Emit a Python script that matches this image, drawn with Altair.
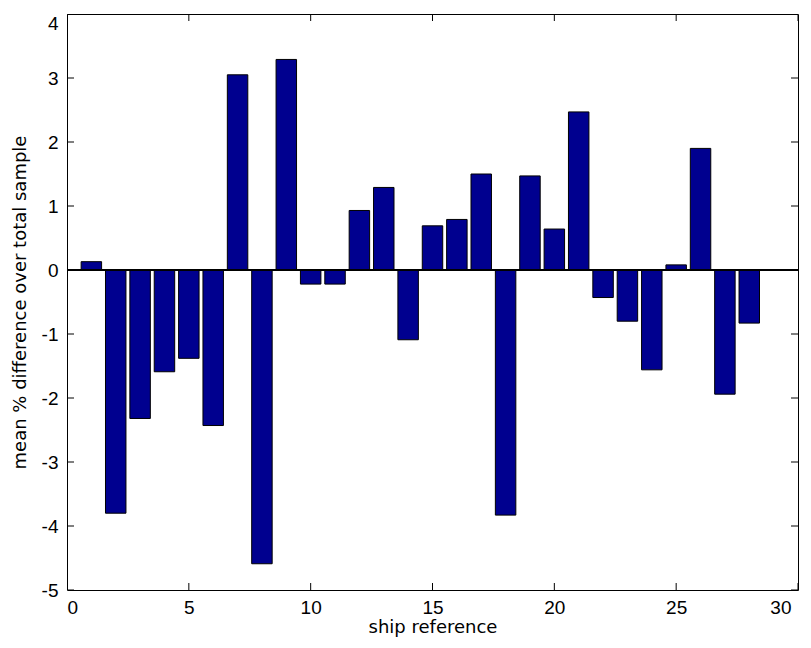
import altair as alt
import pandas as pd

ships = list(range(1, 29))
values = [0.13, -3.80, -2.32, -1.59, -1.38, -2.43, 3.05, -4.59, 3.29, -0.22,
          -0.22, 0.93, 1.29, -1.09, 0.69, 0.79, 1.50, -3.83, 1.47, 0.64,
          2.47, -0.43, -0.80, -1.56, 0.08, 1.90, -1.94, -0.83]
x_ticks = [0, 5, 10, 15, 20, 25, 30]
y_ticks = [-5, -4, -3, -2, -1, 0, 1, 2, 3, 4]

df = pd.DataFrame({"ship": ships, "value": values})
xt = pd.DataFrame({"t": x_ticks})
yt = pd.DataFrame({"t": y_ticks})

xs = alt.Scale(domain=[0, 30], nice=False, zero=False)
ys = alt.Scale(domain=[-5, 4], nice=False, zero=False)

tick_font = "Liberation Sans"
title_font = "DejaVu Sans"

bars = alt.Chart(df).transform_calculate(
    lo="datum.ship - 0.42", hi="datum.ship + 0.42"
).mark_bar(color="#00008F", stroke="black", strokeWidth=1).encode(
    x=alt.X("lo:Q", scale=xs,
            axis=alt.Axis(orient="bottom", values=x_ticks, title="ship reference",
                          domain=False, ticks=False, tickSize=0,
                          labelPadding=8, labelFont=tick_font, labelFontSize=19,
                          labelColor="black", grid=False,
                          labelExpr="datum.value + ''",
                          labelOffset={"condition": {"test": "datum.value == 30", "value": -7}, "value": 0},
                          titleFont=title_font, titleFontSize=18, titleFontWeight="normal",
                          titleColor="black", titlePadding=1)),
    x2="hi:Q",
    y=alt.Y("value:Q", scale=ys,
            axis=alt.Axis(orient="left", values=y_ticks,
                          title="mean % difference over total sample",
                          domain=False, ticks=False, tickSize=0,
                          labelPadding=9, labelFont=tick_font, labelFontSize=19,
                          labelColor="black", grid=False,
                          labelExpr="datum.value + ''",
                          labelBaseline={"condition": {"test": "datum.value == 4", "value": "top"}, "value": "middle"},
                          titleFont=title_font, titleFontSize=18, titleFontWeight="normal",
                          titleColor="black", titlePadding=12)),
    y2=alt.Y2(datum=0),
)

baseline = alt.Chart(df).mark_rule(color="black", strokeWidth=1).encode(
    y=alt.Y(datum=0, scale=ys, axis=None)
)

tick_style = dict(clip=True, size=14, thickness=1, color="black", opacity=1)

bottom_ticks = alt.Chart(xt).mark_tick(orient="vertical", **tick_style).encode(
    x=alt.X("t:Q", scale=xs, axis=None),
    y=alt.Y(datum=-5, scale=ys, axis=None),
)
top_ticks = alt.Chart(xt).mark_tick(orient="vertical", **tick_style).encode(
    x=alt.X("t:Q", scale=xs, axis=None),
    y=alt.Y(datum=4, scale=ys, axis=None),
)
left_ticks = alt.Chart(yt).mark_tick(orient="horizontal", **tick_style).encode(
    y=alt.Y("t:Q", scale=ys, axis=None),
    x=alt.X(datum=0, scale=xs, axis=None),
)
right_ticks = alt.Chart(yt).mark_tick(orient="horizontal", **tick_style).encode(
    y=alt.Y("t:Q", scale=ys, axis=None),
    x=alt.X(datum=30, scale=xs, axis=None),
)

chart = alt.layer(bars, baseline, bottom_ticks, top_ticks, left_ticks, right_ticks).resolve_axis(
    x="independent", y="independent"
).properties(
    width=731, height=576,
    background="white",
    autosize=alt.AutoSizeParams(type="none"),
    padding={"left": 59, "top": 6, "right": 5, "bottom": 50},
).configure_view(stroke="black", strokeWidth=1)

chart.save("out.html", embed_options={"renderer": "svg", "actions": False})
